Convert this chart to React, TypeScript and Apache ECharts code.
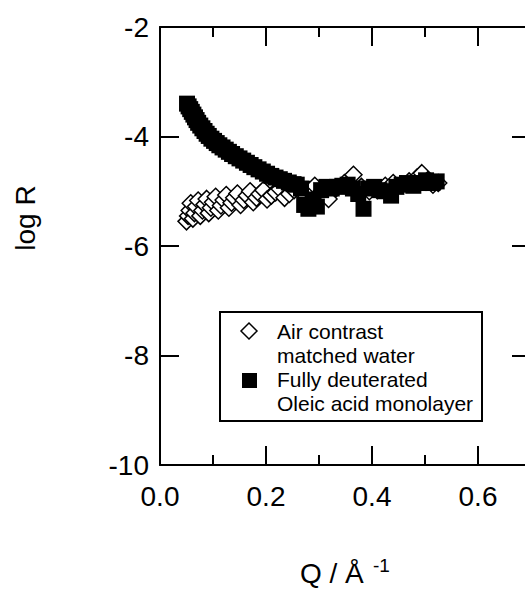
import React, { useEffect, useRef } from "react";
import * as echarts from "echarts";

// Air contrast matched water (open diamonds)
const diamondQ = [
  0.050, 0.053, 0.056, 0.058, 0.062, 0.065, 0.068, 0.072, 0.076, 0.080,
  0.084, 0.088, 0.092, 0.096, 0.100, 0.105, 0.110, 0.115, 0.120, 0.125,
  0.130, 0.135, 0.140, 0.146, 0.152, 0.158, 0.164, 0.170, 0.176, 0.182,
  0.188, 0.195, 0.202, 0.210, 0.218, 0.226, 0.235, 0.244, 0.253, 0.262,
  0.272, 0.282, 0.292, 0.305, 0.318, 0.332, 0.348, 0.365, 0.380, 0.395,
  0.410, 0.425, 0.440, 0.455, 0.470, 0.485, 0.494, 0.505, 0.515, 0.525,
];
const diamondLogR = [
  -5.55, -5.45, -5.35, -5.22, -5.50, -5.40, -5.28, -5.17, -5.45, -5.35,
  -5.24, -5.14, -5.40, -5.30, -5.20, -5.10, -5.35, -5.26, -5.16, -5.07,
  -5.30, -5.21, -5.12, -5.04, -5.25, -5.16, -5.08, -5.00, -5.20, -5.12,
  -5.05, -4.98, -5.15, -5.08, -5.02, -4.96, -5.12, -5.05, -4.98, -4.93,
  -5.05, -4.98, -4.90, -5.00, -5.14, -4.95, -4.85, -4.70, -4.92, -5.00,
  -4.98, -4.90, -4.85, -4.88, -4.82, -4.75, -4.67, -4.80, -4.88, -4.85,
];

// Fully deuterated oleic acid monolayer (filled squares)
const squareQ = [
  0.051, 0.054, 0.057, 0.060, 0.063, 0.066, 0.069, 0.072, 0.076, 0.080,
  0.084, 0.088, 0.092, 0.097, 0.102, 0.107, 0.112, 0.118, 0.124, 0.130,
  0.136, 0.143, 0.150, 0.157, 0.164, 0.171, 0.178, 0.186, 0.194, 0.202,
  0.210, 0.218, 0.226, 0.234, 0.243, 0.252, 0.258, 0.266, 0.272, 0.280,
  0.288, 0.296, 0.304, 0.314, 0.324, 0.334, 0.344, 0.354, 0.364, 0.374,
  0.384, 0.394, 0.404, 0.414, 0.424, 0.436, 0.446, 0.456, 0.466, 0.478,
  0.490, 0.502, 0.514, 0.522,
];
const squareLogR = [
  -3.40, -3.45, -3.50, -3.55, -3.60, -3.65, -3.70, -3.75, -3.80, -3.85,
  -3.90, -3.95, -3.99, -4.04, -4.08, -4.12, -4.16, -4.20, -4.24, -4.28,
  -4.32, -4.36, -4.40, -4.44, -4.48, -4.52, -4.56, -4.60, -4.64, -4.68,
  -4.72, -4.75, -4.78, -4.81, -4.84, -4.87, -4.88, -4.95, -5.25, -5.32,
  -5.15, -5.28, -4.98, -4.92, -4.95, -4.92, -4.90, -4.88, -4.95, -5.05,
  -5.32, -4.95, -4.92, -4.98, -5.00, -5.08, -4.92, -4.88, -4.85, -4.90,
  -4.85, -4.80, -4.85, -4.82,
];

const xTickLabels = ["0.0", "0.2", "0.4", "0.6"];
const yTickLabels = ["-10", "-8", "-6", "-4", "-2"];
const legendLabels = ["Air contrast", "matched water", "Fully deuterated", "Oleic acid monolayer"];
const xTitle = "Q / Å";
const xTitleSup = "-1";
const yTitle = "log R";

const FONT = "'Liberation Sans', Arial, Helvetica, sans-serif";

export default function App() {
  const ref = useRef<HTMLDivElement>(null);
  useEffect(() => {
    if (!ref.current) return;
    const chart = echarts.init(ref.current, undefined, { renderer: "svg" });
    const black = "#000";
    const line = { show: true, onZero: false, lineStyle: { color: black, width: 2 } };
    const majorTick = { show: true, inside: true, length: 19, lineStyle: { color: black, width: 2 } };
    const minorTickAx = { show: true, inside: true, length: 10, lineStyle: { color: black, width: 2 } };
    const xLabelFmt = (v: number) => {
      const s = v.toFixed(1);
      return xTickLabels.includes(s) ? s : "";
    };
    const yLabelFmt = (v: number) => {
      const s = String(Math.round(v));
      return yTickLabels.includes(s) ? s : "";
    };
    const baseX = { type: "value" as const, min: 0, max: 0.7, splitLine: { show: false } };
    const baseY = { type: "value" as const, min: -10, max: -2, interval: 2, splitLine: { show: false } };

    chart.setOption({
      animation: false,
      backgroundColor: "#fff",
      grid: { left: 160, top: 27, right: 9, bottom: 125, containLabel: false },
      xAxis: [
        {
          ...baseX, position: "bottom", interval: 0.2, axisLine: line, axisTick: majorTick,
          axisLabel: { show: true, margin: 17, fontSize: 28, color: black, fontFamily: FONT, formatter: xLabelFmt, showMaxLabel: false },
        },
        { ...baseX, position: "bottom", interval: 0.1, axisLine: { show: false, onZero: false }, axisTick: minorTickAx, axisLabel: { show: false } },
        { ...baseX, position: "top", interval: 0.2, axisLine: line, axisTick: majorTick, axisLabel: { show: false } },
        { ...baseX, position: "top", interval: 0.1, axisLine: { show: false, onZero: false }, axisTick: minorTickAx, axisLabel: { show: false } },
      ],
      yAxis: [
        {
          ...baseY, position: "left", axisLine: line, axisTick: majorTick,
          axisLabel: { show: true, margin: 11, fontSize: 28, color: black, fontFamily: FONT, formatter: yLabelFmt },
        },
        { ...baseY, position: "right", axisLine: line, axisTick: majorTick, axisLabel: { show: false } },
      ],
      series: [
        {
          name: legendLabels[0] + " " + legendLabels[1],
          type: "scatter",
          xAxisIndex: 0,
          yAxisIndex: 0,
          symbol: "diamond",
          symbolSize: 17,
          itemStyle: { color: "#fff", borderColor: black, borderWidth: 1.5, opacity: 1 },
          data: diamondQ.map((q, i) => [q, diamondLogR[i]]),
          z: 2,
        },
        {
          name: legendLabels[2] + " " + legendLabels[3],
          type: "scatter",
          xAxisIndex: 0,
          yAxisIndex: 0,
          symbol: "rect",
          symbolSize: 16,
          itemStyle: { color: black, opacity: 1 },
          data: squareQ.map((q, i) => [q, squareLogR[i]]),
          z: 3,
        },
      ],
      graphic: [
        {
          type: "text", x: 300, y: 573, z: 10,
          style: { text: xTitle, font: `28px ${FONT}`, fill: black, textAlign: "left", align: "left", textVerticalAlign: "middle", verticalAlign: "middle" },
        },
        {
          type: "text", x: 373, y: 565, z: 10,
          style: { text: xTitleSup, font: `19px ${FONT}`, fill: black, textAlign: "left", align: "left", textVerticalAlign: "middle", verticalAlign: "middle" },
        },
        {
          type: "text", x: 25, y: 218, rotation: Math.PI / 2, z: 10,
          style: { text: yTitle, font: `28px ${FONT}`, fill: black, textAlign: "center", align: "center", textVerticalAlign: "middle", verticalAlign: "middle" },
        },
        {
          type: "rect", z: 10,
          shape: { x: 220, y: 312, width: 262, height: 109 },
          style: { fill: "#fff", stroke: black, lineWidth: 2 },
        },
        {
          type: "polygon", z: 11,
          shape: { points: [[249, 323], [257, 331], [249, 339], [241, 331]] },
          style: { fill: "#fff", stroke: black, lineWidth: 1.5 },
        },
        {
          type: "rect", z: 11,
          shape: { x: 242, y: 373, width: 15, height: 15 },
          style: { fill: black },
        },
        ...legendLabels.map((t, i) => ({
          type: "text", x: 277, y: 331 + i * 24, z: 11,
          style: { text: t, font: `21px ${FONT}`, fill: black, textAlign: "left", align: "left", textVerticalAlign: "middle", verticalAlign: "middle" },
        })),
      ],
    });
    return () => chart.dispose();
  }, []);
  return (
    <div style={{ position: "absolute", left: 0, top: 0, width: 525, height: 590, overflow: "hidden" }}>
      <div ref={ref} style={{ width: 540, height: 590 }} />
    </div>
  );
}
